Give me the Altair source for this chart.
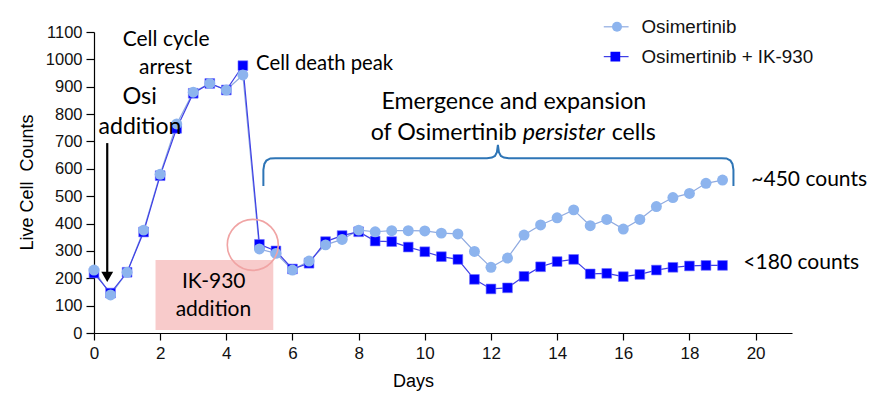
import altair as alt
import pandas as pd

# ---- data ----
days = [i * 0.5 for i in range(39)]
osi = [230, 139, 222, 376, 580, 764, 880, 912, 888, 943,
       307, 291, 230, 263, 322, 342, 376, 370, 374, 374,
       373, 365, 362, 298, 240, 274, 358, 395, 421, 450,
       392, 415, 380, 415, 462, 495, 510, 547, 559]
combo = [219, 146, 222, 369, 575, 748, 876, 912, 888, 977,
         324, 300, 234, 255, 334, 356, 370, 336, 334, 314,
         297, 279, 269, 196, 161, 165, 207, 242, 261, 269,
         216, 218, 206, 214, 230, 240, 245, 247, 247]
x_ticks = list(range(0, 21, 2))
y_ticks = list(range(0, 1101, 100))

# annotation texts (positions in day / count units)
notes_day = [2.18, 2.16, 1.38, 1.39, 4.90, 3.62, 3.61, 12.69, 19.87, 19.63]
notes_cnt = [1071, 968, 862, 753, 982, 187, 84, 845, 559, 255]
notes_txt = ["Cell cycle", "arrest", "Osi", "addition", "Cell death peak",
             "IK-930", "addition", "Emergence and expansion", "~450 counts", "<180 counts"]
notes_size = [21, 21, 23.5, 23, 20.3, 21, 21, 23.2, 21, 21]
notes_align = ["center", "center", "center", "center", "left",
               "center", "center", "center", "left", "left"]

bracket_day = [5.12, 5.12, 5.15, 5.21, 5.33, 5.48, 11.88, 12.03, 12.12, 12.18, 12.21,
               12.24, 12.30, 12.39, 12.54, 18.97, 19.12, 19.24, 19.30, 19.33, 19.33]
bracket_cnt = [537, 596, 618, 630, 638, 639, 639, 641, 647, 661, 687,
               661, 647, 641, 639, 639, 638, 630, 618, 596, 537]

LIGHT = "#8DB4EE"
LIGHT_LINE = "#8FAAE0"
BLUE = "#0000FF"
BLUE_LINE = "#3F3FE6"
FONT_AX = "Liberation Sans"
FONT_NOTE = "Lato"

df = pd.DataFrame({"day": days, "osi": osi, "combo": combo})

xs = alt.Scale(domain=[0, 21.1], nice=False, zero=False)
ys = alt.Scale(domain=[0, 1100], nice=False)

AX_X = alt.Axis(values=x_ticks, grid=False, tickSize=7, labelPadding=5,
                labelFontSize=17, labelFont=FONT_AX, labelColor="#111",
                labelOverlap=False, format="d",
                titleFont=FONT_AX, titleFontSize=18, titleFontWeight="normal",
                titleColor="#000", titleX=319, titleY=48, titleBaseline="middle",
                domainColor="#000", tickColor="#000", labelFlush=False)
AX_Y = alt.Axis(values=y_ticks, grid=False, tickSize=8, labelPadding=4,
                labelFontSize=16.5, labelFont=FONT_AX, labelColor="#111",
                labelOverlap=False, format="d",
                titleFont=FONT_AX, titleFontSize=18, titleFontWeight="normal",
                titleColor="#000", titleX=-67, titleY=150, titleAlign="center",
                titleBaseline="middle",
                domainColor="#000", tickColor="#000")
X_TITLE = "Days"
Y_TITLE = "Live Cell\u00a0 Counts"


def XX(f):
    return alt.X(f, scale=xs, axis=AX_X, title=X_TITLE)


def YY(f):
    return alt.Y(f, scale=ys, axis=AX_Y, title=Y_TITLE)


base = alt.Chart(df)

line_osi = base.mark_line(color=LIGHT_LINE, strokeWidth=1.2).encode(
    x=XX("day:Q"), y=YY("osi:Q"))
line_combo = base.mark_line(color=BLUE_LINE, strokeWidth=1.2).encode(
    x=XX("day:Q"), y=YY("combo:Q"))
pts_combo = base.mark_point(shape="square", filled=True, fill=BLUE, stroke="#7070FF",
                            strokeWidth=0.6, size=95, opacity=1).encode(
    x=XX("day:Q"), y=YY("combo:Q"))
pts_osi = base.mark_point(shape="circle", filled=True, fill=LIGHT, size=120,
                          opacity=1).encode(x=XX("day:Q"), y=YY("osi:Q"))

# pink box behind "IK-930 addition"
box = alt.Chart(pd.DataFrame({"d1": [1.86], "d2": [5.42], "c1": [11], "c2": [267]})).mark_rect(
    color="#F8CBCB").encode(x=XX("d1:Q"), x2="d2:Q", y=YY("c1:Q"), y2="c2:Q")

# red circle highlight
ring = alt.Chart(pd.DataFrame({"d": [4.80], "c": [322]})).mark_point(
    shape="circle", filled=False, stroke="#F0A4A4", strokeWidth=1.6, size=2600, opacity=1).encode(
    x=XX("d:Q"), y=YY("c:Q"))

# arrow for Osi addition
arrow_line = alt.Chart(pd.DataFrame({"d": [0.40], "c1": [694], "c2": [215]})).mark_rule(
    color="#000", strokeWidth=2.2).encode(x=XX("d:Q"), y=YY("c1:Q"), y2="c2:Q")
arrow_head = alt.Chart(pd.DataFrame({"d": [0.40], "c": [205]})).mark_point(
    shape="triangle-down", filled=True, color="#000", size=140, opacity=1).encode(
    x=XX("d:Q"), y=YY("c:Q"))

# bracket
bdf = pd.DataFrame({"d": bracket_day, "c": bracket_cnt, "o": list(range(len(bracket_day)))})
bracket = alt.Chart(bdf).mark_line(color="#2E75B6", strokeWidth=2).encode(
    x=XX("d:Q"), y=YY("c:Q"), order="o:Q")

# annotation texts
ndf = pd.DataFrame({"d": notes_day, "c": notes_cnt, "t": notes_txt,
                    "s": notes_size, "a": notes_align})
texts = []
for i in range(len(ndf)):
    r = ndf.iloc[[i]]
    texts.append(alt.Chart(r).mark_text(font=FONT_NOTE, fontSize=float(r["s"].iloc[0]),
                                        align=r["a"].iloc[0], baseline="middle",
                                        color="#000").encode(
        x=XX("d:Q"), y=YY("c:Q"), text="t:N"))

# second line of the "Emergence" note, with italic word
mid = pd.DataFrame({"d": [14.20], "c": [731]})
t_left = alt.Chart(mid).mark_text(font=FONT_NOTE, fontSize=23.2, align="right", baseline="middle",
                                  dx=-47, color="#000", text="of Osimertinib").encode(
    x=XX("d:Q"), y=YY("c:Q"))
t_mid = alt.Chart(mid).mark_text(font=FONT_NOTE, fontSize=23.2, align="center", baseline="middle",
                                 fontStyle="italic", color="#000", text="persister").encode(
    x=XX("d:Q"), y=YY("c:Q"))
t_right = alt.Chart(mid).mark_text(font=FONT_NOTE, fontSize=23.2, align="left", baseline="middle",
                                   dx=48, color="#000", text="cells").encode(
    x=XX("d:Q"), y=YY("c:Q"))

# legend (drawn by hand, top right)
leg_names = ["Osimertinib", "Osimertinib + IK-930"]
leg_cnt = [1119, 1010]
lg_line = alt.Chart(pd.DataFrame({"d1": [15.41, 15.41], "d2": [16.16, 16.16], "c": leg_cnt,
                                  "k": leg_names})).mark_rule(strokeWidth=1.2).encode(
    x=XX("d1:Q"), x2="d2:Q", y=YY("c:Q"),
    color=alt.Color("k:N", scale=alt.Scale(domain=leg_names, range=[LIGHT_LINE, BLUE_LINE]),
                    legend=None))
lg_c = alt.Chart(pd.DataFrame({"d": [15.81], "c": [leg_cnt[0]]})).mark_point(
    shape="circle", filled=True, fill=LIGHT, size=100, opacity=1).encode(
    x=XX("d:Q"), y=YY("c:Q"))
lg_s = alt.Chart(pd.DataFrame({"d": [15.76], "c": [leg_cnt[1]]})).mark_point(
    shape="square", filled=True, fill=BLUE, size=95, opacity=1).encode(
    x=XX("d:Q"), y=YY("c:Q"))
lg_t = alt.Chart(pd.DataFrame({"d": [16.55, 16.55], "c": leg_cnt, "t": leg_names})).mark_text(
    font=FONT_AX, fontSize=18.8, align="left", baseline="middle", color="#111").encode(
    x=XX("d:Q"), y=YY("c:Q"), text="t:N")

chart = alt.layer(
    line_osi, box, line_combo, pts_combo, pts_osi, ring, arrow_line, arrow_head, bracket,
    *texts, t_left, t_mid, t_right, lg_line, lg_c, lg_s, lg_t
).properties(
    width=698, height=301,
    autosize=alt.AutoSizeParams(type="none"),
    padding={"left": 86, "top": 24, "right": 83, "bottom": 60},
).configure_view(stroke=None).configure_axis(domainWidth=1.2, tickWidth=1.2)

chart.save("out.html", embed_options={"renderer": "svg", "actions": False})
